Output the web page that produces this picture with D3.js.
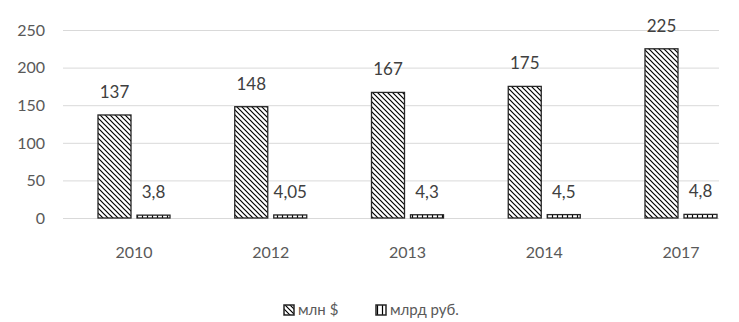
<!DOCTYPE html>
<html><head><meta charset="utf-8">
<script src="https://cdn.jsdelivr.net/npm/d3@7"></script>
<style>body{margin:0;background:#fff}svg{display:block}text{font-family:Lato,"Open Sans",sans-serif}</style>
</head><body><svg id="c" width="739" height="322"></svg>
<script>
const categories = ["2010","2012","2013","2014","2017"];
const seriesNames = ["млн $","млрд руб."];
const usd = [137,148,167,175,225];
const rub = [3.8,4.05,4.3,4.5,4.8];
const yTicks = [0,50,100,150,200,250];

const svg = d3.select("#c");
const y = d3.scaleLinear().domain([0,250]).range([218,30]);
const x = d3.scalePoint().domain(categories).range([134,681]);
const gridL = 63, gridR = 719;
const barW = 33, gap = 3;

const defs = svg.append("defs");
const p1 = defs.append("pattern").attr("id","diag").attr("patternUnits","userSpaceOnUse").attr("width",5).attr("height",5);
p1.append("rect").attr("width",5).attr("height",5).attr("fill","#fff");
p1.append("path").attr("d","M-1,-1L6,6M-1,4L1,6M4,-1L6,1").attr("stroke","#000").attr("stroke-width",1.2);
const p2 = defs.append("pattern").attr("id","vert").attr("patternUnits","userSpaceOnUse").attr("width",5).attr("height",5);
p2.append("rect").attr("width",5).attr("height",5).attr("fill","#fff");
p2.append("path").attr("d","M2.5,0V5").attr("stroke","#000").attr("stroke-width",1.2);

svg.append("g").selectAll("line").data(yTicks).join("line")
  .attr("x1",gridL).attr("x2",gridR).attr("y1",d=>y(d)+0.5).attr("y2",d=>y(d)+0.5)
  .attr("stroke","#d9d9d9").attr("stroke-width",1);

svg.append("g").selectAll("text").data(yTicks).join("text")
  .attr("x",45).attr("y",d=>y(d)+5.8).attr("text-anchor","end")
  .attr("font-size",16).attr("fill","#595959").text(d=>d);

svg.append("g").selectAll("text").data(categories).join("text")
  .attr("x",d=>x(d)).attr("y",258).attr("text-anchor","middle")
  .attr("font-size",16).attr("fill","#595959").text(d=>d);

const fmt = v => String(v).replace(".", ",");

svg.append("g").selectAll("rect").data(categories).join("rect")
  .attr("x",(d)=>x(d)-gap-barW).attr("width",barW)
  .attr("y",(d,i)=>y(usd[i])).attr("height",(d,i)=>y(0)-y(usd[i]))
  .attr("fill","url(#diag)").attr("stroke","#262626").attr("stroke-width",1.3);
svg.append("g").selectAll("rect").data(categories).join("rect")
  .attr("x",(d)=>x(d)+gap).attr("width",barW)
  .attr("y",(d,i)=>y(rub[i])).attr("height",(d,i)=>y(0)-y(rub[i]))
  .attr("fill","url(#vert)").attr("stroke","#262626").attr("stroke-width",1.3);

svg.append("g").selectAll("text").data(categories).join("text")
  .attr("x",d=>x(d)-gap-barW/2).attr("y",(d,i)=>y(usd[i])-17)
  .attr("text-anchor","middle").attr("font-size",17).attr("fill","#404040").text((d,i)=>fmt(usd[i]));
svg.append("g").selectAll("text").data(categories).join("text")
  .attr("x",d=>x(d)+gap+barW/2).attr("y",(d,i)=>y(rub[i])-17)
  .attr("text-anchor","middle").attr("font-size",17).attr("fill","#404040").text((d,i)=>fmt(rub[i]));

const leg = svg.append("g");
const legItems = [{name:seriesNames[0],fill:"url(#diag)",x:284},{name:seriesNames[1],fill:"url(#vert)",x:376}];
legItems.forEach(it=>{
  leg.append("rect").attr("x",it.x).attr("y",305).attr("width",10).attr("height",10)
    .attr("fill",it.fill).attr("stroke","#262626").attr("stroke-width",1.5);
  leg.append("text").attr("x",it.x+14).attr("y",315).attr("font-size",15)
    .attr("fill","#595959").text(it.name);
});
</script></body></html>
